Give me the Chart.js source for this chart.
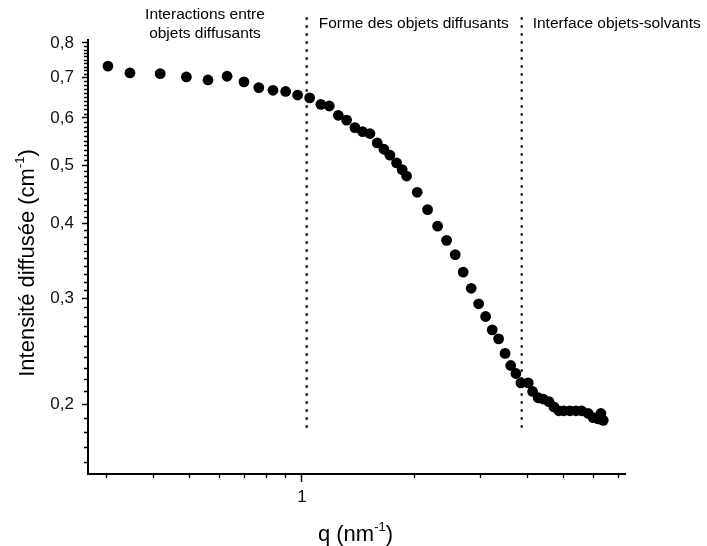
<!DOCTYPE html>
<html>
<head>
<meta charset="utf-8">
<script src="https://cdn.jsdelivr.net/npm/chart.js@4"></script>
<style>
  html, body { margin: 0; padding: 0; background: #fff; }
  #wrap { width: 707px; height: 546px; position: relative; }
</style>
</head>
<body>
<div id="wrap"><canvas id="chart" width="707" height="546"></canvas></div>
<script>
// Data
const qValues = [0.303, 0.347, 0.418, 0.491, 0.561, 0.631, 0.700, 0.767, 0.837, 0.905,
  0.974, 1.049, 1.124, 1.184, 1.251, 1.317, 1.386, 1.453, 1.520, 1.590,
  1.657, 1.719, 1.791, 1.854, 1.905, 2.034, 2.168, 2.306, 2.437, 2.570,
  2.700, 2.836, 2.969, 3.099, 3.228, 3.357, 3.494, 3.617, 3.735, 3.852,
  4.029, 4.139, 4.283, 4.418, 4.575, 4.718, 4.867, 5.018, 5.207, 5.403,
  5.596, 5.829, 6.009, 6.197, 6.303, 6.393];
const intensity = [0.732, 0.713, 0.711, 0.702, 0.694, 0.704, 0.689, 0.674, 0.667, 0.664,
  0.655, 0.648, 0.632, 0.628, 0.606, 0.595, 0.578, 0.569, 0.565, 0.545,
  0.532, 0.520, 0.505, 0.492, 0.480, 0.451, 0.422, 0.396, 0.375, 0.355,
  0.332, 0.312, 0.294, 0.280, 0.266, 0.257, 0.243, 0.232, 0.225, 0.217,
  0.217, 0.210, 0.205, 0.204, 0.202, 0.198, 0.195, 0.195, 0.195, 0.195,
  0.195, 0.193, 0.190, 0.189, 0.193, 0.188];

// region separators (q) and their vertical extent (intensity)
const dividerQ = [1.03, 3.87];
const dividerSpan = [0.883, 0.181];

// region captions
const regionNames = [["Interactions entre", "objets diffusants"], ["Forme des objets diffusants"], ["Interface objets-solvants"]];

// ticks
const yMajor = [0.2, 0.3, 0.4, 0.5, 0.6, 0.7, 0.8];
const yMinor = [];
for (let i = 16; i <= 80; i++) if (i % 10) yMinor.push(i / 100);
const xMajor = [1];
const xMinor = [0.3, 0.4, 0.5, 0.6, 0.7, 0.8, 0.9, 2, 3, 4, 5, 6, 7];

const FONT = "'Liberation Sans', Arial, sans-serif";

const points = qValues.map((q, i) => ({ x: q, y: intensity[i] }));
const dividers = dividerQ.map(q => ({
  type: "line",
  data: [{ x: q, y: dividerSpan[0] }, { x: q, y: dividerSpan[1] }],
  borderColor: "#000",
  borderWidth: 2.2,
  borderDash: [2.5, 5.5],
  pointRadius: 0,
  showLine: true,
  clip: false,
  order: 2
}));

const extras = {
  id: "extras",
  afterDraw(chart) {
    const ctx = chart.ctx;
    const xs = chart.scales.x, ys = chart.scales.y;
    const area = chart.chartArea;
    ctx.save();
    // minor ticks
    ctx.strokeStyle = "#000";
    ctx.lineWidth = 1.3;
    ctx.beginPath();
    yMinor.forEach(v => {
      const p = Math.round(ys.getPixelForValue(v)) + 0.5;
      ctx.moveTo(area.left - 4, p);
      ctx.lineTo(area.left, p);
    });
    xMinor.forEach(v => {
      const p = Math.round(xs.getPixelForValue(v)) + 0.5;
      ctx.moveTo(p, area.bottom);
      ctx.lineTo(p, area.bottom + 4);
    });
    ctx.stroke();

    // region captions
    ctx.fillStyle = "#000";
    ctx.font = "15.5px " + FONT;
    ctx.textBaseline = "middle";
    ctx.textAlign = "center";
    ctx.fillText(regionNames[0][0], 205, 15);
    ctx.fillText(regionNames[0][1], 205, 34);
    ctx.textAlign = "left";
    ctx.fillText(regionNames[1][0], xs.getPixelForValue(dividerQ[0]) + 12, 24);
    ctx.fillText(regionNames[2][0], xs.getPixelForValue(dividerQ[1]) + 11, 24);

    // axis titles with superscripts
    const big = "22px " + FONT, small = "13px " + FONT;
    function drawSup(parts, cx, cy) {
      let w = 0;
      parts.forEach(p => { ctx.font = p.sup ? small : big; w += ctx.measureText(p.t).width; });
      let x = cx - w / 2;
      ctx.textAlign = "left";
      parts.forEach(p => {
        ctx.font = p.sup ? small : big;
        ctx.fillText(p.t, x, p.sup ? cy - 8 : cy);
        x += ctx.measureText(p.t).width;
      });
    }
    drawSup([{ t: "q (nm" }, { t: "-1", sup: true }, { t: ")" }], (area.left + area.right) / 2 - 1, 535);
    ctx.save();
    ctx.translate(28, (area.top + area.bottom) / 2 + 6);
    ctx.rotate(-Math.PI / 2);
    drawSup([{ t: "Intensité diffusée (cm" }, { t: "-1", sup: true }, { t: ")" }], 0, 0);
    ctx.restore();
    ctx.restore();
  }
};

new Chart(document.getElementById("chart"), {
  type: "scatter",
  data: {
    datasets: [{
      data: points,
      backgroundColor: "#000",
      borderColor: "#000",
      pointRadius: 5.4,
      pointHoverRadius: 5.4,
      borderWidth: 0,
      order: 1
    }, ...dividers]
  },
  options: {
    responsive: false,
    animation: false,
    events: [],
    layout: { padding: { top: 40, right: 82, left: 0, bottom: 0 } },
    plugins: { legend: { display: false }, tooltip: { enabled: false } },
    scales: {
      x: {
        type: "logarithmic",
        min: 0.268,
        max: 7.31,
        afterFit(s) { s.height = 72; },
        afterBuildTicks(s) { s.ticks = xMajor.map(v => ({ value: v })); },
        border: { display: true, color: "#000", width: 2 },
        grid: { drawOnChartArea: false, drawTicks: true, tickLength: 8, tickColor: "#000", tickWidth: 1.5 },
        ticks: {
          autoSkip: false,
          maxRotation: 0,
          padding: 5,
          color: "#111",
          font: { family: FONT, size: 17 },
          callback: v => String(v)
        }
      },
      y: {
        type: "logarithmic",
        min: 0.153,
        max: 0.809,
        afterFit(s) { s.width = 88; },
        afterBuildTicks(s) { s.ticks = yMajor.map(v => ({ value: v })); },
        border: { display: true, color: "#000", width: 2 },
        grid: { drawOnChartArea: false, drawTicks: true, tickLength: 6, tickColor: "#000", tickWidth: 1.5 },
        ticks: {
          autoSkip: false,
          padding: 8,
          color: "#111",
          font: { family: FONT, size: 17 },
          callback: v => Number(v).toFixed(1).replace(".", ",")
        }
      }
    }
  },
  plugins: [extras]
});
</script>
</body>
</html>
